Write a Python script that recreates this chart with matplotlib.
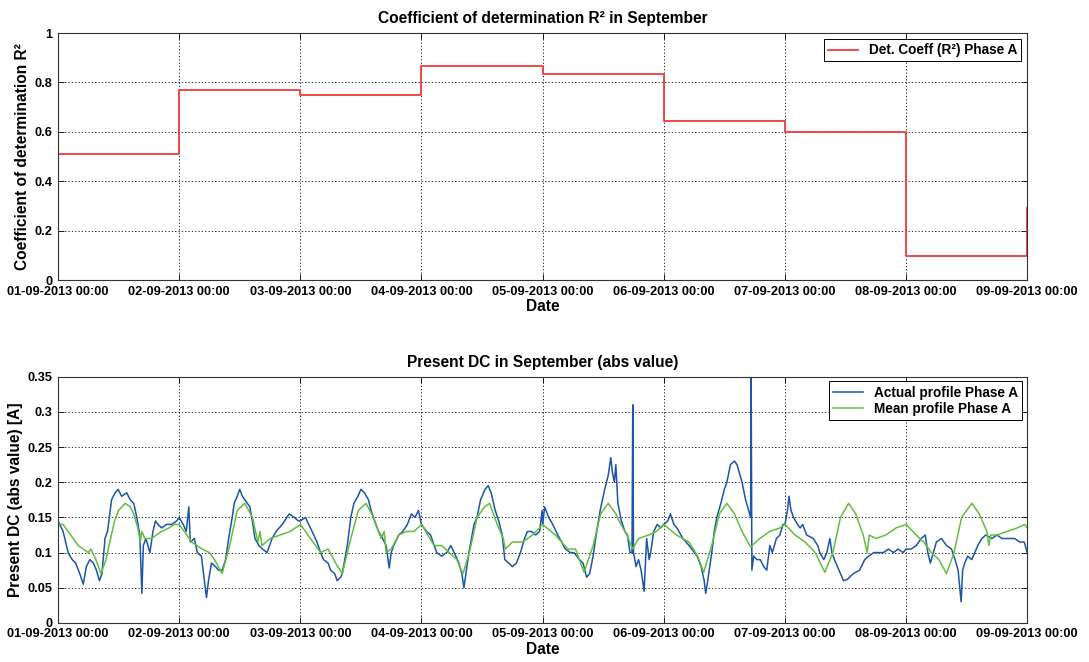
import numpy as np
import matplotlib
matplotlib.use("Agg")
import matplotlib.pyplot as plt

plt.rcParams.update({
    "font.family": "Liberation Sans", "font.weight": "bold",
    "axes.labelweight": "bold", "axes.titleweight": "bold",
    "font.size": 9.2, "axes.linewidth": 0.8,
    "xtick.direction": "in", "ytick.direction": "in",
    "xtick.top": True, "ytick.right": True,
})

# daily tick labels
DAY_LABELS = ["01-09-2013 00:00", "02-09-2013 00:00", "03-09-2013 00:00",
              "04-09-2013 00:00", "05-09-2013 00:00", "06-09-2013 00:00",
              "07-09-2013 00:00", "08-09-2013 00:00", "09-09-2013 00:00"]

# coefficient of determination, one value per day (+ last sample)
r2_days = [0, 1, 2, 3, 4, 5, 6, 7, 8]
r2_vals = [0.51, 0.77, 0.75, 0.868, 0.835, 0.645, 0.598, 0.096, 0.29]

# actual profile phase A: hours since 01-09 00:00, value [A]
act_h = [0, 1, 2, 2.8, 3.5, 4.3, 5, 5.6, 6.3, 7, 7.6, 8.2, 8.7, 9.3, 9.8, 10.6, 11.3, 11.9, 12.6,
         13.6, 14.3, 15, 15.6, 16.2, 16.6, 16.9, 17.4, 18.2, 18.8, 19.3, 19.8, 20.5, 21.5, 22.5, 23.5,
         24, 24.8, 25.4, 25.9, 26.2, 27, 27.6, 28.4, 29, 29.4, 29.8, 30.4, 31.2, 31.8, 32.5, 33.2,
         33.8, 34.5, 34.9, 35.5, 36, 36.5, 37, 38, 38.6, 39, 39.8, 40.5, 41.4, 42.4, 43.2, 44.4,
         45.8, 46.8, 47.6,
         48, 49, 50, 51.3, 52, 52.6, 53.5, 54, 54.8, 55.3, 56, 56.3, 57.3, 58, 58.6, 59.4, 60, 60.7,
         61.5, 62, 62.7, 63.5, 64.3, 65, 65.6, 66, 66.5, 67.5, 68.3, 69.2, 70, 70.7, 71.4,
         72, 73, 73.8, 75, 76, 77, 77.8, 78.8, 79.4, 80, 80.4, 80.8, 81.4, 82.4, 83, 83.7, 84.6,
         85.2, 85.8, 86.6, 87.3, 88, 88.5, 89.3, 90, 90.8, 91.6, 92.4, 93, 93.8, 94.6, 95.4, 95.9,
         96, 96.4, 97.2, 98, 99, 100.5, 101.5, 102.2, 103.3, 104, 104.7, 105.3, 106, 106.5, 107.4,
         108.3, 109, 109.5, 109.8, 110.2, 110.5, 110.9, 111.6, 112.3, 112.8, 113.3, 113.7, 113.85,
         114.0, 114.5, 115, 115.5, 116.1, 116.6, 117.1, 117.4, 118, 118.7, 119.4,
         120, 120.8, 121.3, 122, 122.6, 123.8, 125, 126.6, 127.4, 128, 128.3, 128.7, 129, 129.5,
         130, 130.5, 131.3, 132, 132.5, 133.2, 134, 134.5, 135.5, 136.2, 136.8, 137.2, 137.3,
         137.45, 137.8, 138.4, 139.1, 139.8, 140.4, 141, 141.5, 142.3, 143, 143.6,
         144, 144.5, 144.8, 145.2, 145.7, 146.5, 147, 147.5, 148.3, 149.6, 150.5, 150.9, 151.7,
         152.3, 152.9, 153.3, 153.8, 154.4, 155, 155.6, 156.4, 157.2, 158, 158.8, 159.8, 160.6,
         161.6, 162.5, 163.5, 164.5, 165.5, 166.4, 167.4,
         168, 169, 170, 171, 171.8, 172.3, 172.8, 173.4, 174, 175, 176, 177, 177.7, 178.3, 178.9,
         179.2, 179.6, 180.2, 181, 181.6, 182.2, 183, 183.8, 185, 186, 187, 188.2, 189.5, 190.5,
         191.4, 192]
act_v = [0.145, 0.13, 0.1, 0.09, 0.085, 0.07, 0.055, 0.08, 0.09, 0.085, 0.075, 0.06, 0.07, 0.12,
         0.13, 0.175, 0.185, 0.19, 0.18, 0.185, 0.175, 0.17, 0.15, 0.125, 0.042, 0.11, 0.12, 0.1,
         0.13, 0.145, 0.14, 0.135, 0.14, 0.14, 0.145,
         0.15, 0.14, 0.13, 0.165, 0.115, 0.12, 0.1, 0.095, 0.06, 0.036, 0.06, 0.085, 0.08, 0.075,
         0.075, 0.09, 0.12, 0.15, 0.17, 0.18, 0.19, 0.18, 0.175, 0.165, 0.14, 0.12, 0.11, 0.105,
         0.1, 0.12, 0.13, 0.14, 0.155, 0.15, 0.145,
         0.145, 0.15, 0.135, 0.115, 0.1, 0.09, 0.085, 0.075, 0.07, 0.06, 0.065, 0.07, 0.11, 0.15,
         0.17, 0.18, 0.19, 0.185, 0.175, 0.16, 0.145, 0.13, 0.12, 0.11, 0.078, 0.1, 0.11, 0.125,
         0.13, 0.14, 0.155, 0.15, 0.16,
         0.14, 0.13, 0.125, 0.1, 0.095, 0.1, 0.11, 0.095, 0.085, 0.07, 0.05, 0.07, 0.1, 0.14,
         0.15, 0.175, 0.19, 0.195, 0.185, 0.16, 0.145, 0.125, 0.09, 0.085, 0.08, 0.085, 0.1,
         0.12, 0.13, 0.13, 0.125, 0.13, 0.16,
         0.14, 0.165, 0.15, 0.14, 0.125, 0.105, 0.1, 0.1, 0.09, 0.085, 0.065, 0.07, 0.095, 0.12,
         0.16, 0.19, 0.21, 0.235, 0.215, 0.2, 0.225, 0.17, 0.145, 0.13, 0.125, 0.1, 0.1, 0.31,
         0.1, 0.08, 0.09, 0.075, 0.045, 0.12, 0.09, 0.1, 0.13, 0.14, 0.135,
         0.14, 0.145, 0.155, 0.14, 0.135, 0.12, 0.11, 0.095, 0.08, 0.06, 0.042, 0.06, 0.075, 0.1,
         0.13, 0.15, 0.17, 0.19, 0.2, 0.225, 0.23, 0.225, 0.2, 0.175, 0.16, 0.15, 0.35,
         0.075, 0.095, 0.09, 0.09, 0.08, 0.075, 0.11, 0.1, 0.12, 0.125, 0.14,
         0.14, 0.16, 0.18, 0.16, 0.15, 0.14, 0.135, 0.14, 0.125, 0.12, 0.11, 0.1, 0.09, 0.1,
         0.12, 0.1, 0.09, 0.08, 0.07, 0.06, 0.062, 0.068, 0.072, 0.075, 0.09, 0.095, 0.1, 0.1,
         0.1, 0.105, 0.1, 0.105, 0.1,
         0.105, 0.105, 0.11, 0.12, 0.125, 0.1, 0.085, 0.1, 0.115, 0.12, 0.11, 0.105, 0.09, 0.075,
         0.03, 0.075, 0.085, 0.095, 0.09, 0.1, 0.11, 0.12, 0.125, 0.12, 0.125, 0.12, 0.12, 0.12,
         0.115, 0.115, 0.1]

# mean profile phase A
mean_h = [0, 1, 2, 3, 4, 5, 6, 6.5, 7.5, 8.5, 9.5, 10.4, 11.2, 12, 13.3, 14.3, 15, 15.8, 16.3,
          16.6, 17.2, 18.5, 19.5, 20.5, 22, 23,
          24, 26.5, 28.5, 30, 31, 32.5, 34, 35.5, 37, 38.5, 39.6, 40, 40.4, 42, 44, 46,
          48, 50.5, 52, 53.5, 55, 56.3, 58, 59.5, 61, 62.5, 64, 64.6, 65, 66, 67.5, 69, 70.5,
          72, 74.5, 76, 77.5, 79, 80.2, 81.5, 83, 84.5, 85.5, 87, 88.2, 88.6, 90, 92, 94,
          96, 98.5, 101, 102.5, 104.2, 106, 107.5, 109, 110.5, 111.5, 112.7, 113.8, 115, 117, 118.5,
          120, 122.5, 125, 126.7, 127.9, 129.5, 131, 132.5, 134, 135.5, 137.2, 139, 141, 143,
          144, 146, 148, 150, 151.9, 153.5, 155, 156.6, 158, 159.5, 160.3, 160.7, 162, 164, 166,
          168, 170, 171.5, 173, 174.5, 176, 177.5, 179, 181, 182.5, 184, 184.4, 184.8, 186, 188,
          190, 191.5, 192]
mean_v = [0.14, 0.14, 0.13, 0.12, 0.11, 0.105, 0.1, 0.105, 0.09, 0.07, 0.09, 0.12, 0.145, 0.16,
          0.17, 0.165, 0.155, 0.135, 0.115, 0.13, 0.12, 0.12, 0.125, 0.13, 0.135, 0.14,
          0.14, 0.115, 0.105, 0.1, 0.09, 0.07, 0.11, 0.16, 0.17, 0.15, 0.115, 0.13, 0.11, 0.12,
          0.125, 0.13,
          0.14, 0.115, 0.1, 0.105, 0.085, 0.07, 0.12, 0.16, 0.17, 0.15, 0.12, 0.13, 0.1, 0.105,
          0.125, 0.13, 0.13,
          0.14, 0.11, 0.11, 0.1, 0.09, 0.07, 0.1, 0.15, 0.165, 0.17, 0.14, 0.12, 0.105, 0.115,
          0.115, 0.125,
          0.14, 0.125, 0.105, 0.105, 0.072, 0.11, 0.155, 0.17, 0.155, 0.14, 0.125, 0.105, 0.12,
          0.125, 0.13,
          0.14, 0.125, 0.115, 0.095, 0.072, 0.11, 0.155, 0.17, 0.155, 0.13, 0.108, 0.12, 0.13,
          0.135,
          0.14, 0.125, 0.115, 0.1, 0.072, 0.1, 0.15, 0.17, 0.155, 0.125, 0.1, 0.125, 0.12, 0.125,
          0.135,
          0.14, 0.125, 0.115, 0.1, 0.09, 0.07, 0.1, 0.15, 0.17, 0.155, 0.13, 0.11, 0.125, 0.125,
          0.13, 0.135, 0.14, 0.135]

C_RED = "#f23b3b"
C_BLUE = "#1d55a8"
C_GREEN = "#62bf3c"
LAB_FS = 11.2


def style_axes(ax):
    ax.set_xlim(0, 8)
    ax.set_xticks(range(9))
    ax.set_xticklabels(DAY_LABELS)
    ax.grid(True, color="black", ls=(0, (1.5, 2.5)), lw=0.6)
    ax.set_xlabel("Date", fontsize=LAB_FS, labelpad=1)
    ax.tick_params(length=4, width=0.6, pad=4)
    for sp in ax.spines.values():
        sp.set_color("#333333")


fig = plt.figure(figsize=(10.89, 6.62), dpi=100)
ax1 = fig.add_axes([0.0533, 0.577, 0.890, 0.373])
ax2 = fig.add_axes([0.0533, 0.059, 0.890, 0.372])

ax1.plot(r2_days, r2_vals, drawstyle="steps-post", color=C_RED, lw=1.3,
         label="Det. Coeff (R\u00b2) Phase A")
style_axes(ax1)
ax1.set_ylim(0, 1)
ax1.set_yticks([0, 0.2, 0.4, 0.6, 0.8, 1])
ax1.set_yticklabels(["0", "0.2", "0.4", "0.6", "0.8", "1"])
ax1.set_ylabel("Coefficient of determination R\u00b2", fontsize=LAB_FS, labelpad=3)
ax1.set_title("Coefficient of determination R\u00b2 in September", fontsize=LAB_FS, pad=7)
leg = ax1.legend(loc="upper right", fancybox=False, edgecolor="black",
                 framealpha=1, borderaxespad=0.45, handlelength=2.2,
                 fontsize=9.8, borderpad=0.3)
leg.get_frame().set_linewidth(0.7)

ax2.plot(np.array(act_h) / 24, act_v, color=C_BLUE, lw=1.1,
         label="Actual profile Phase A")
ax2.plot(np.array(mean_h) / 24, mean_v, color=C_GREEN, lw=1.1,
         label="Mean profile Phase A")
style_axes(ax2)
ax2.set_ylim(0, 0.35)
ax2.set_yticks([0, 0.05, 0.1, 0.15, 0.2, 0.25, 0.3, 0.35])
ax2.set_yticklabels(["0", "0.05", "0.1", "0.15", "0.2", "0.25", "0.3", "0.35"])
ax2.set_ylabel("Present DC (abs value) [A]", fontsize=LAB_FS, labelpad=3)
ax2.set_title("Present DC in September (abs value)", fontsize=LAB_FS, pad=7)
leg = ax2.legend(loc="upper right", fancybox=False, edgecolor="black",
                 framealpha=1, borderaxespad=0.35, handlelength=2.2,
                 labelspacing=0.15, fontsize=9.8, borderpad=0.3)
leg.get_frame().set_linewidth(0.7)

fig.savefig("out.png", dpi=100)
